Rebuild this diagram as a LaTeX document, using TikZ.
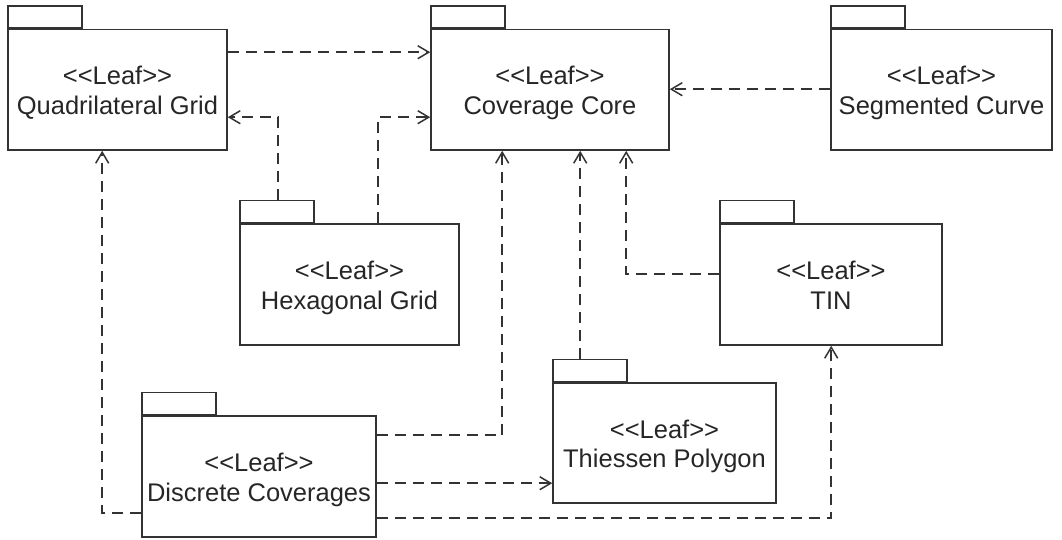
\documentclass[tikz,border=0pt]{standalone}
\usepackage{fontspec}
\setmainfont{Liberation Sans}[Ligatures=TeXOff]
\usetikzlibrary{arrows.meta,calc}
\newcommand{\pkgname}[1]{\vphantom{L}<<Leaf>>\\#1\vphantom{gy}}
\tikzset{
  pkg/.style={draw=black!80, line width=1.6pt, rectangle, inner sep=0pt},
  pkgtext/.style={align=center, inner sep=0pt, yshift=-3.4pt,
    font=\fontsize{25.5}{29.5}\selectfont, text=black!85},
  pkgtab/.style={draw=black!80, line width=1.6pt, rectangle, inner sep=0pt,
    minimum width=74, minimum height=22, anchor=south west},
  dep/.style={draw=black!80, line width=1.5pt, dash pattern=on 11pt off 7pt,
    -{Straight Barb[length=11pt,width=13pt,line width=1.5pt]}}
}
\begin{document}
\begin{tikzpicture}[x=1pt,y=-1pt]
\useasboundingbox (0,0) rectangle (1062,539);
% packages
\node[pkg, minimum width=219, minimum height=120.5,
  label={[pkgtext]center:{\pkgname{Quadrilateral Grid}}}] (quad) at (117.5,89.75) {};
\node[pkgtab] (quadtab) at (quad.north west) {};
\node[pkg, minimum width=238, minimum height=120.5,
  label={[pkgtext]center:{\pkgname{Coverage Core}}}] (core) at (550,89.75) {};
\node[pkgtab] (coretab) at (core.north west) {};
\node[pkg, minimum width=221, minimum height=120.5,
  label={[pkgtext]center:{\pkgname{Segmented Curve}}}] (seg) at (941.5,89.75) {};
\node[pkgtab] (segtab) at (seg.north west) {};
\node[pkg, minimum width=219, minimum height=121,
  label={[pkgtext]center:{\pkgname{Hexagonal Grid}}}] (hex) at (349.5,284.5) {};
\node[pkgtab] (hextab) at (hex.north west) {};
\node[pkg, minimum width=222, minimum height=121,
  label={[pkgtext]center:{\pkgname{TIN}}}] (tin) at (831,284.5) {};
\node[pkgtab] (tintab) at (tin.north west) {};
\node[pkg, minimum width=234, minimum height=121,
  label={[pkgtext]center:{\pkgname{Discrete Coverages}}}] (disc) at (259,476.5) {};
\node[pkgtab] (disctab) at (disc.north west) {};
\node[pkg, minimum width=223, minimum height=120,
  label={[pkgtext]center:{\pkgname{Thiessen Polygon}}}] (thi) at (664.5,443) {};
\node[pkgtab] (thitab) at (thi.north west) {};
% dependencies
\draw[dep] ($(quad.north east)+(0,23.5)$) -- ($(core.north west)+(0,23.5)$);
\draw[dep] ($(hextab.north west)+(39,0)$) |- ($(quad.north east)+(0,88.5)$);
\draw[dep] ($(hex.north west)+(139,0)$) |- ($(core.north west)+(0,88.5)$);
\draw[dep] ($(seg.north west)+(0,60.5)$) -- ($(core.north east)+(0,60.5)$);
\draw[dep] ($(disc.north east)+(0,20)$) -| ($(core.south west)+(72,0)$);
\draw[dep] ($(thitab.north west)+(28,0)$) -- ($(core.south west)+(150,0)$);
\draw[dep] ($(tin.north west)+(0,51)$) -| ($(core.south west)+(196,0)$);
\draw[dep] ($(disc.south west)+(0,-25)$) -| ($(quad.south west)+(95,0)$);
\draw[dep] ($(disc.north east)+(0,68)$) -- ($(thi.north west)+(0,101)$);
\draw[dep] ($(disc.north east)+(0,103)$) -| ($(tin.south west)+(112,0)$);
\end{tikzpicture}
\end{document}
